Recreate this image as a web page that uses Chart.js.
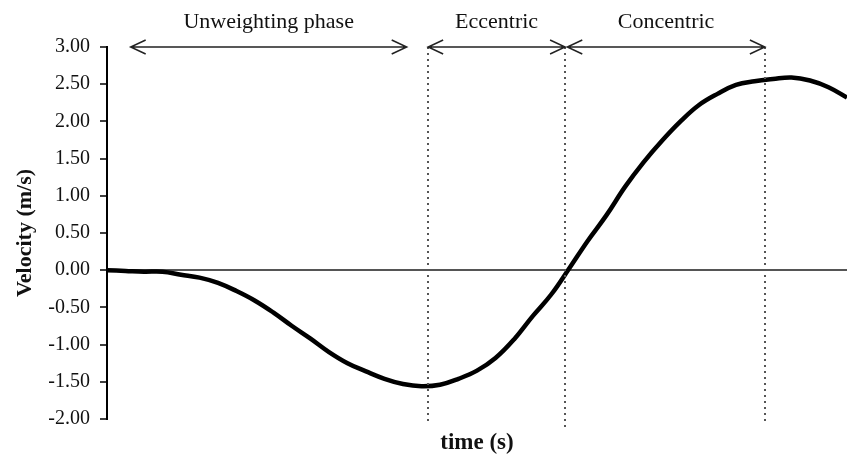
<!DOCTYPE html>
<html lang="en">
<head>
    <title>Velocity - time</title>
    <meta charset="utf-8">
    <script src="https://cdn.jsdelivr.net/npm/chart.js@4.4.1/dist/chart.umd.min.js"></script>
    <style>
        html, body { margin: 0; padding: 0; background: #fff; }
        #wrap { width: 847px; height: 457px; }
    </style>
</head>
<body>

<div id="wrap">
    <canvas id="velocity-chart" width="847" height="457"></canvas>
</div>

<script>
// time (s) and velocity (m/s)
var time = [0.000, 0.025, 0.050, 0.075, 0.100, 0.125, 0.150, 0.175, 0.200, 0.225,
            0.250, 0.275, 0.300, 0.325, 0.350, 0.375, 0.400, 0.425, 0.450, 0.475,
            0.500, 0.525, 0.550, 0.575, 0.600, 0.625, 0.650, 0.675, 0.700, 0.725,
            0.750, 0.775, 0.800, 0.825, 0.850, 0.875, 0.900, 0.925, 0.950, 0.975, 1.000];
var velocity = [0.00, -0.01, -0.02, -0.02, -0.06, -0.10, -0.17, -0.28, -0.41, -0.57,
                -0.75, -0.92, -1.10, -1.25, -1.36, -1.46, -1.53, -1.56, -1.54, -1.46,
                -1.35, -1.18, -0.93, -0.62, -0.33, 0.03, 0.40, 0.74, 1.12, 1.45,
                1.74, 2.00, 2.22, 2.37, 2.49, 2.54, 2.57, 2.59, 2.55, 2.46, 2.32];

// phases along the top
var phaseNames = ["Unweighting phase", "Eccentric", "Concentric"];
var phaseStart = [0.032, 0.434, 0.622];
var phaseEnd   = [0.405, 0.619, 0.889];
var dividers   = [0.434, 0.619, 0.889];

var serif = "'Liberation Serif', 'Times New Roman', serif";

var phasePlugin = {
  id: 'phases',
  afterDatasetsDraw: function(chart) {
    var ctx = chart.ctx;
    var xs = chart.scales.x, ys = chart.scales.y;
    var top = ys.getPixelForValue(3);
    var bottom = ys.getPixelForValue(-2);
    ctx.save();

    // dotted dividers
    ctx.strokeStyle = '#555';
    ctx.lineWidth = 2;
    ctx.setLineDash([2, 4]);
    dividers.forEach(function(t, i) {
      var x = Math.round(xs.getPixelForValue(t));
      ctx.beginPath();
      ctx.moveTo(x, top);
      ctx.lineTo(x, bottom + (i == 1 ? 10 : 4));
      ctx.stroke();
    });
    ctx.setLineDash([]);

    // arrows and labels
    ctx.strokeStyle = '#222';
    ctx.lineWidth = 1.5;
    ctx.fillStyle = '#111';
    ctx.font = "22px " + serif;
    ctx.textAlign = 'center';
    ctx.textBaseline = 'alphabetic';
    for (var i = 0; i < phaseNames.length; i++) {
      var x1 = xs.getPixelForValue(phaseStart[i]);
      var x2 = xs.getPixelForValue(phaseEnd[i]);
      ctx.beginPath();
      ctx.moveTo(x1, top);
      ctx.lineTo(x2, top);
      ctx.moveTo(x1 + 15, top - 7);
      ctx.lineTo(x1, top);
      ctx.lineTo(x1 + 15, top + 7);
      ctx.moveTo(x2 - 15, top - 7);
      ctx.lineTo(x2, top);
      ctx.lineTo(x2 - 15, top + 7);
      ctx.stroke();
      ctx.fillText(phaseNames[i], (x1 + x2) / 2, 28);
    }
    ctx.restore();
  }
};

new Chart(document.getElementById("velocity-chart"), {
  type: 'line',
  data: {
    datasets: [{
      label: "Velocity",
      data: time.map(function(t, i) { return {x: t, y: velocity[i]}; }),
      borderColor: '#000',
      borderWidth: 4.5,
      pointRadius: 0,
      tension: 0.4,
      fill: false
    }]
  },
  options: {
    responsive: false,
    animation: false,
    layout: { padding: { top: 47, right: 0, bottom: 0, left: 0 } },
    plugins: {
      legend: { display: false },
      tooltip: { enabled: false }
    },
    scales: {
      x: {
        type: 'linear',
        min: 0,
        max: 1,
        ticks: { display: false },
        grid: { display: false },
        border: { display: false },
        title: {
          display: true,
          text: 'time (s)',
          color: '#111',
          font: { family: serif, size: 23, weight: 'bold' },
          padding: { top: 4, bottom: 0 }
        },
        afterFit: function(scale) { scale.height = 38; }
      },
      y: {
        min: -2,
        max: 3,
        ticks: {
          stepSize: 0.5,
          color: '#111',
          padding: 10,
          font: { family: serif, size: 20 },
          callback: function(v) { return v.toFixed(2); }
        },
        grid: {
          drawOnChartArea: true,
          tickLength: 7,
          tickColor: '#000',
          tickWidth: 1.5,
          lineWidth: 2,
          color: function(c) { return c.tick && c.tick.value === 0 ? '#555' : 'rgba(0,0,0,0)'; }
        },
        border: { display: true, color: '#000', width: 2 },
        title: {
          display: true,
          text: 'Velocity (m/s)',
          color: '#111',
          font: { family: serif, size: 22, weight: 'bold' },
          padding: { top: 12, bottom: 0 }
        },
        afterFit: function(scale) { scale.width = 107; }
      }
    }
  },
  plugins: [phasePlugin]
});
</script>
</body>
</html>
